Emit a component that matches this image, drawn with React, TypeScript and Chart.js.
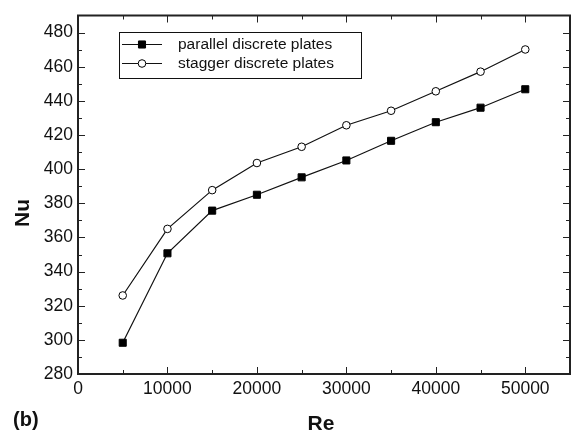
import React, { useEffect, useRef } from "react";
import { Chart, registerables } from "chart.js";

Chart.register(...registerables);

// Reynolds numbers and the mean Nusselt numbers for both plate layouts
const reValues = [5000, 10000, 15000, 20000, 25000, 30000, 35000, 40000, 45000, 50000];
const parallelNu = [298.3, 350.7, 375.7, 385, 395.2, 405.1, 416.6, 427.5, 436, 446.8];
const staggerNu = [326, 365, 387.7, 403.6, 413.1, 425.7, 434.2, 445.6, 457.1, 470.1];

const seriesNames = ["parallel discrete plates", "stagger discrete plates"];

const xTickValues = [0, 10000, 20000, 30000, 40000, 50000];
const yTickValues = [280, 300, 320, 340, 360, 380, 400, 420, 440, 460, 480];
const xMinorTicks = [5000, 15000, 25000, 35000, 45000];
const yMinorTicks = [290, 310, 330, 350, 370, 390, 410, 430, 450, 470];

const FONT = "'Liberation Sans', Arial, Helvetica, sans-serif";
const INK = "#111";

// Boxed frame with inward ticks on all four sides
const framePlugin = {
  id: "frame",
  afterDraw(chart: any) {
    const { ctx, chartArea: a, scales } = chart;
    const xs = scales.x;
    const ys = scales.y;
    ctx.save();
    ctx.strokeStyle = "#222";
    ctx.lineWidth = 1;
    const major = 7;
    const minor = 4;
    ctx.beginPath();
    xTickValues.concat(xMinorTicks).forEach((v) => {
      const len = xTickValues.includes(v) ? major : minor;
      const px = Math.round(xs.getPixelForValue(v)) + 0.5;
      ctx.moveTo(px, a.bottom);
      ctx.lineTo(px, a.bottom - len);
      ctx.moveTo(px, a.top);
      ctx.lineTo(px, a.top + len);
    });
    yTickValues.concat(yMinorTicks).forEach((v) => {
      const len = yTickValues.includes(v) ? major : minor;
      const py = Math.round(ys.getPixelForValue(v)) + 0.5;
      ctx.moveTo(a.left, py);
      ctx.lineTo(a.left + len, py);
      ctx.moveTo(a.right, py);
      ctx.lineTo(a.right - len, py);
    });
    ctx.stroke();
    ctx.lineWidth = 2;
    ctx.strokeRect(a.left, a.top, a.right - a.left, a.bottom - a.top);

    // axis titles and panel label
    ctx.fillStyle = INK;
    ctx.font = `bold 21px ${FONT}`;
    ctx.textAlign = "center";
    ctx.textBaseline = "middle";
    ctx.fillText("Re", (a.left + a.right) / 2 - 3, 424);
    ctx.save();
    ctx.translate(23, 213);
    ctx.rotate(-Math.PI / 2);
    ctx.fillText("Nu", 0, 0);
    ctx.restore();
    ctx.font = `bold 20px ${FONT}`;
    ctx.textAlign = "left";
    ctx.fillText("(b)", 13, 420);
    ctx.restore();
  },
};

// Legend box inside the plot area, drawn from the dataset styles
const legendPlugin = {
  id: "insetLegend",
  afterDraw(chart: any) {
    const { ctx } = chart;
    const box = { x: 119.5, y: 32.5, w: 242, h: 46 };
    ctx.save();
    ctx.strokeStyle = INK;
    ctx.lineWidth = 1;
    ctx.strokeRect(box.x, box.y, box.w, box.h);
    const rows = [44, 63];
    chart.data.datasets.forEach((ds: any, i: number) => {
      const y = rows[i] + 0.5;
      ctx.strokeStyle = ds.borderColor;
      ctx.lineWidth = 1;
      ctx.beginPath();
      ctx.moveTo(122, y);
      ctx.lineTo(162, y);
      ctx.stroke();
      const cx = 142;
      ctx.fillStyle = ds.pointBackgroundColor;
      ctx.strokeStyle = ds.pointBorderColor;
      ctx.beginPath();
      if (ds.pointStyle === "rect") {
        const s = ds.pointRadius * Math.SQRT1_2;
        ctx.rect(cx - s, y - s, 2 * s, 2 * s);
      } else {
        ctx.arc(cx, y, ds.pointRadius, 0, Math.PI * 2);
      }
      ctx.fill();
      ctx.stroke();
      ctx.fillStyle = INK;
      ctx.font = `15.5px ${FONT}`;
      ctx.textAlign = "left";
      ctx.textBaseline = "middle";
      ctx.fillText(ds.label, 178, y);
    });
    ctx.restore();
  },
};

export default function App() {
  const canvasRef = useRef<HTMLCanvasElement | null>(null);

  useEffect(() => {
    const canvas = canvasRef.current;
    if (!canvas) return;
    const chart = new Chart(canvas, {
      type: "scatter",
      data: {
        datasets: [
          {
            label: seriesNames[0],
            data: reValues.map((x, i) => ({ x, y: parallelNu[i] })),
            showLine: true,
            borderColor: INK,
            borderWidth: 1.2,
            pointStyle: "rect",
            pointRadius: 5,
            pointBackgroundColor: "#000",
            pointBorderColor: "#000",
            pointBorderWidth: 1,
          },
          {
            label: seriesNames[1],
            data: reValues.map((x, i) => ({ x, y: staggerNu[i] })),
            showLine: true,
            borderColor: INK,
            borderWidth: 1.2,
            pointStyle: "circle",
            pointRadius: 3.8,
            pointBackgroundColor: "#fff",
            pointBorderColor: "#000",
            pointBorderWidth: 1,
          },
        ],
      },
      options: {
        responsive: false,
        animation: false,
        layout: { padding: { left: 0, right: 9, top: 7, bottom: 0 } },
        plugins: {
          legend: { display: false },
          tooltip: { enabled: false },
        },
        scales: {
          x: {
            type: "linear",
            min: 0,
            max: 55000,
            grid: { display: false, drawTicks: false },
            border: { display: false },
            afterBuildTicks: (s: any) => {
              s.ticks = xTickValues.map((value) => ({ value }));
            },
            afterFit: (s: any) => {
              s.height = 60;
            },
            ticks: {
              padding: 5,
              color: INK,
              font: { family: FONT, size: 17.5 },
              maxRotation: 0,
              autoSkip: false,
              callback: (v: any) => String(v),
            },
          },
          y: {
            type: "linear",
            min: 280,
            max: 490,
            grid: { display: false, drawTicks: false },
            border: { display: false },
            afterBuildTicks: (s: any) => {
              s.ticks = yTickValues.map((value) => ({ value }));
            },
            afterFit: (s: any) => {
              s.width = 78;
            },
            ticks: {
              padding: 5,
              color: INK,
              font: { family: FONT, size: 17.5 },
              autoSkip: false,
              callback: (v: any) => String(v),
            },
          },
        },
      },
      plugins: [framePlugin, legendPlugin],
    });
    return () => chart.destroy();
  }, []);

  return (
    <div style={{ position: "fixed", left: 0, top: 0, width: 579, height: 434, background: "#fff" }}>
      <canvas ref={canvasRef} width={579} height={434} />
    </div>
  );
}
